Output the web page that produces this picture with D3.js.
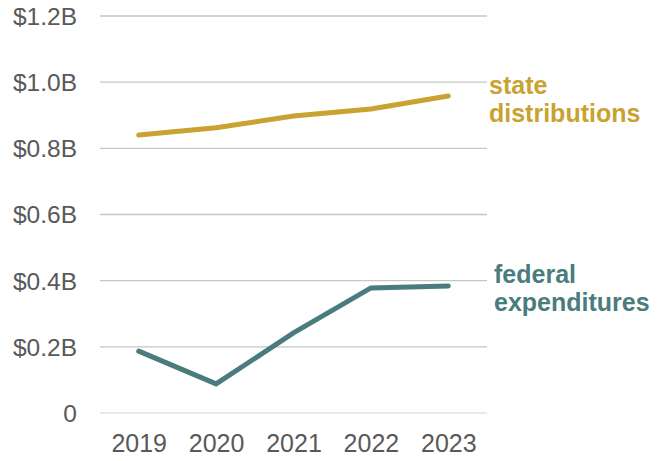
<!DOCTYPE html>
<html><head><meta charset="utf-8">
<script src="https://cdn.jsdelivr.net/npm/d3@7"></script>
<style>body{margin:0;background:#fff}svg{display:block}</style>
</head><body>
<script>
const years = ["2019","2020","2021","2022","2023"];
const stateDistributions = [0.840, 0.862, 0.898, 0.919, 0.958];
const federalExpenditures = [0.187, 0.088, 0.242, 0.378, 0.384];
const yTicks = [0, 0.2, 0.4, 0.6, 0.8, 1.0, 1.2];
const yTickLabels = ["0", "$0.2B", "$0.4B", "$0.6B", "$0.8B", "$1.0B", "$1.2B"];

const W = 661, H = 461;
const svg = d3.select("body").append("svg").attr("width", W).attr("height", H);
const x = d3.scalePoint().domain(years).range([100, 487]).padding(0.5);
const y = d3.scaleLinear().domain([0, 1.2]).range([413, 16]);
const font = "'Liberation Sans', Arial, sans-serif";

// gridlines
svg.append("g").selectAll("line").data(yTicks).join("line")
  .attr("x1", 100).attr("x2", 487)
  .attr("y1", d => y(d)).attr("y2", d => y(d))
  .attr("stroke", d => d === 0 ? "#e2e2e2" : "#c6c6c6").attr("stroke-width", 1.3);

// y axis labels
const yAxis = d3.axisLeft(y).tickValues(yTicks).tickSize(0).tickPadding(0)
  .tickFormat((d, i) => yTickLabels[i]);
const ya = svg.append("g").attr("transform", "translate(77,0)").call(yAxis);
ya.select(".domain").remove();
ya.selectAll("text").attr("font-family", font).attr("font-size", 24.5).attr("fill", "#595959").attr("dy", "0.34em");

// x axis labels
const xAxis = d3.axisBottom(x).tickSize(0).tickPadding(0);
const xa = svg.append("g").attr("transform", "translate(0,452)").call(xAxis);
xa.select(".domain").remove();
xa.selectAll("text").attr("font-family", font).attr("font-size", 25).attr("fill", "#595959").attr("dy", 0);

const line = d3.line().x((d, i) => x(years[i])).y(d => y(d));
svg.append("path").datum(stateDistributions).attr("d", line)
  .attr("fill", "none").attr("stroke", "#C9A231").attr("stroke-width", 5).attr("stroke-linecap", "round");
svg.append("path").datum(federalExpenditures).attr("d", line)
  .attr("fill", "none").attr("stroke", "#4A7C7E").attr("stroke-width", 5).attr("stroke-linecap", "round");

const lab = (lines, xx, yy, color) => {
  const t = svg.append("text").attr("x", xx).attr("y", yy)
    .attr("font-family", font).attr("font-size", 25).attr("font-weight", "bold").attr("fill", color);
  lines.forEach((s, i) => t.append("tspan").attr("x", xx).attr("dy", i ? 28 : 0).text(s));
};
lab(["state", "distributions"], 489, 94, "#C9A231");
lab(["federal", "expenditures"], 494, 283, "#4A7C7E");
</script>
</body></html>
